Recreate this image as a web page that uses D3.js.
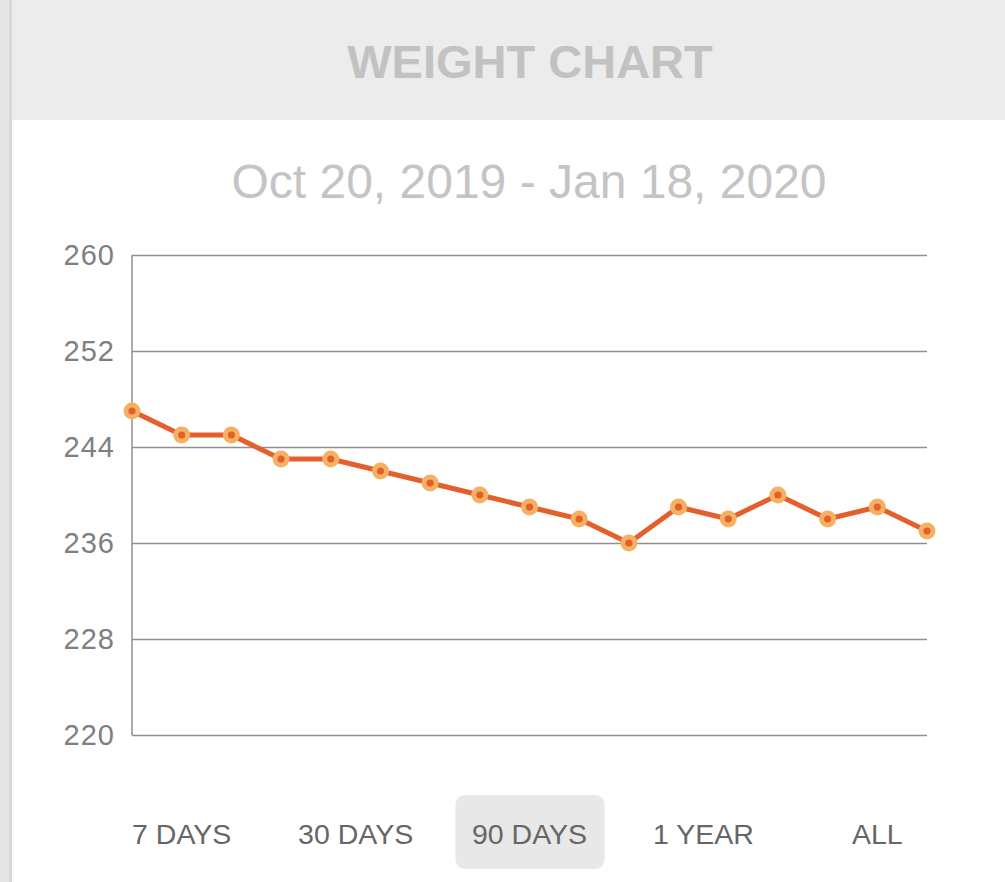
<!DOCTYPE html>
<html>
<head>
<meta charset="utf-8">
<script src="https://cdn.jsdelivr.net/npm/d3@7"></script>
<style>
    html, body { margin: 0; padding: 0; background: #fff; }
    svg { display: block; }
</style>
</head>
<body>
<div id="chart"></div>
<script>
    // chart data
    var pointIndex = [0, 1, 2, 3, 4, 5, 6, 7, 8, 9, 10, 11, 12, 13, 14, 15, 16];
    var weights = [247, 245, 245, 243, 243, 242, 241, 240, 239, 238, 236, 239, 238, 240, 238, 239, 237];
    var yTicks = [220, 228, 236, 244, 252, 260];
    var rangeButtons = ["7 DAYS", "30 DAYS", "90 DAYS", "1 YEAR", "ALL"];
    var activeButton = "90 DAYS";
    var titleText = "WEIGHT CHART";
    var dateRange = "Oct 20, 2019 - Jan 18, 2020";

    var width = 1005,
        height = 882;
    var font = "'Liberation Sans', Arial, sans-serif";
    var lineColor = "#e45f2b",
        dotFill = "#f5b163",
        gridColor = "#8f8f8f";

    var margin = { left: 132, right: 78, top: 255, bottom: 147 };

    var svg = d3.select("#chart")
        .append("svg")
        .attr("width", width)
        .attr("height", height);

    // left shadow strip
    svg.append("rect")
        .attr("x", 0).attr("y", 0)
        .attr("width", 12).attr("height", height)
        .attr("fill", "#e6e6e6");
    svg.append("rect")
        .attr("x", 9).attr("y", 0)
        .attr("width", 3).attr("height", height)
        .attr("fill", "#d8d8d8");

    // header band
    svg.append("rect")
        .attr("x", 12).attr("y", 0)
        .attr("width", width - 12).attr("height", 120)
        .attr("fill", "#ececec");

    svg.append("text")
        .attr("x", 530)
        .attr("y", 78)
        .attr("text-anchor", "middle")
        .attr("font-family", font)
        .attr("font-weight", "bold")
        .attr("font-size", "47px")
        .attr("fill", "#c2c2c2")
        .text(titleText);

    svg.append("text")
        .attr("x", 529)
        .attr("y", 198)
        .attr("text-anchor", "middle")
        .attr("font-family", font)
        .attr("font-size", "48px")
        .attr("fill", "#c4c4c4")
        .text(dateRange);

    var x = d3.scalePoint()
        .domain(pointIndex)
        .range([margin.left, width - margin.right]);

    var y = d3.scaleLinear()
        .domain([220, 260])
        .range([height - margin.bottom, margin.top]);

    // gridlines + y labels
    var yAxis = d3.axisLeft(y)
        .tickValues(yTicks)
        .tickSize(-(width - margin.right - margin.left))
        .tickPadding(17);

    var gy = svg.append("g")
        .attr("transform", "translate(" + margin.left + ",0)")
        .call(yAxis);
    gy.select(".domain").remove();
    gy.selectAll(".tick line")
        .attr("stroke", gridColor)
        .attr("stroke-width", 1.5);
    gy.selectAll(".tick text")
        .attr("font-family", font)
        .attr("font-size", "29px")
        .attr("letter-spacing", "1px")
        .attr("fill", "#7f7f7f");

    // left axis line
    svg.append("line")
        .attr("x1", margin.left).attr("x2", margin.left)
        .attr("y1", y(260)).attr("y2", y(220))
        .attr("stroke", gridColor)
        .attr("stroke-width", 1.5);

    var line = d3.line()
        .x(function (d, i) { return x(pointIndex[i]); })
        .y(function (d) { return y(d); });

    svg.append("path")
        .datum(weights)
        .attr("d", line)
        .attr("fill", "none")
        .attr("stroke", lineColor)
        .attr("stroke-width", 5)
        .attr("stroke-linejoin", "round");

    var dots = svg.append("g")
        .selectAll("g")
        .data(weights)
        .enter()
        .append("g")
        .attr("transform", function (d, i) {
            return "translate(" + x(pointIndex[i]) + "," + y(d) + ")";
        });
    dots.append("circle")
        .attr("r", 8.5)
        .attr("fill", dotFill);
    dots.append("circle")
        .attr("r", 3.6)
        .attr("fill", lineColor);

    // range buttons
    var bx = d3.scalePoint()
        .domain(rangeButtons)
        .range([x(1), x(15)]);

    svg.append("rect")
        .attr("x", bx(activeButton) - 74)
        .attr("y", 795)
        .attr("width", 149)
        .attr("height", 74)
        .attr("rx", 9)
        .attr("fill", "#e8e8e8");

    svg.append("g")
        .selectAll("text")
        .data(rangeButtons)
        .enter()
        .append("text")
        .attr("x", function (d) { return bx(d); })
        .attr("y", 844)
        .attr("text-anchor", "middle")
        .attr("font-family", font)
        .attr("font-size", "28.5px")
        .attr("fill", "#666")
        .text(function (d) { return d; });
</script>
</body>
</html>
